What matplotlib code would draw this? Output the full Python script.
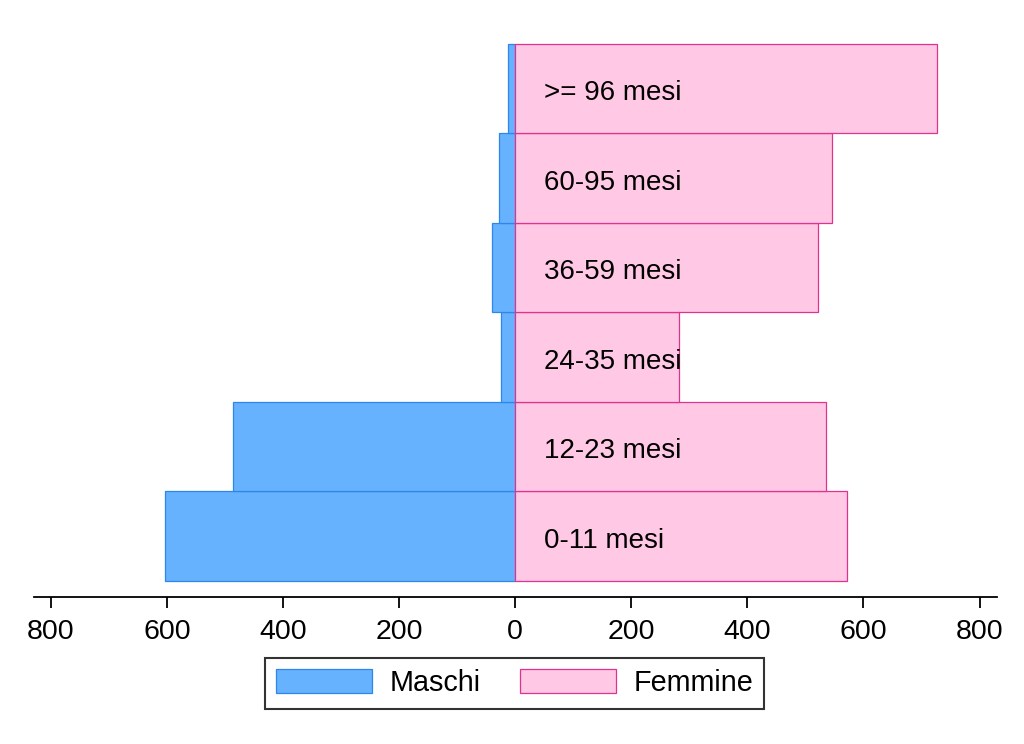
import matplotlib
matplotlib.use("Agg")
import matplotlib.pyplot as plt
from matplotlib.ticker import FuncFormatter

plt.rcParams['font.family'] = ['Liberation Sans', 'DejaVu Sans']

categories = ["0-11 mesi", "12-23 mesi", "24-35 mesi", "36-59 mesi", "60-95 mesi", ">= 96 mesi"]
maschi = [604, 487, 25, 40, 28, 12]
femmine = [572, 535, 282, 521, 546, 727]
ticks = [-800, -600, -400, -200, 0, 200, 400, 600, 800]

fig = plt.figure(figsize=(10.24, 7.44), dpi=100)
ax = fig.add_axes([0.0332, 0.1976, 0.9404, 0.765])

y = list(range(len(categories)))
ax.barh(y, [-m for m in maschi], height=1.0, color="#66B2FF", edgecolor="#2E86E8",
        linewidth=0.9, label="Maschi")
ax.barh(y, femmine, height=1.0, color="#FFC8E5", edgecolor="#E0338F",
        linewidth=0.9, label="Femmine")

for yi, lab in zip(y, categories):
    ax.text(50, yi - 0.05, lab, ha="left", va="center", fontsize=20, color="black")

ax.set_xlim(-829, 830)
ax.set_ylim(-0.68, 5.68)
ax.set_xticks(ticks)
ax.xaxis.set_major_formatter(FuncFormatter(lambda v, p: f"{abs(int(v))}"))
ax.tick_params(axis="x", direction="out", length=8, width=1.3, pad=8, labelsize=20.5)
ax.set_yticks([])
for s in ["left", "right", "top"]:
    ax.spines[s].set_visible(False)
ax.spines["bottom"].set_linewidth(1.3)

leg = fig.legend(loc="center", bbox_to_anchor=(514.5 / 1024, 1 - 683 / 744), ncol=2,
                 fontsize=20.7, frameon=True, fancybox=False, edgecolor="black",
                 handlelength=3.35, handleheight=0.9, handletextpad=0.6,
                 columnspacing=1.35, borderpad=0.4)
leg.get_frame().set_linewidth(1.5)

fig.savefig("out.png", dpi=100, facecolor="white")
